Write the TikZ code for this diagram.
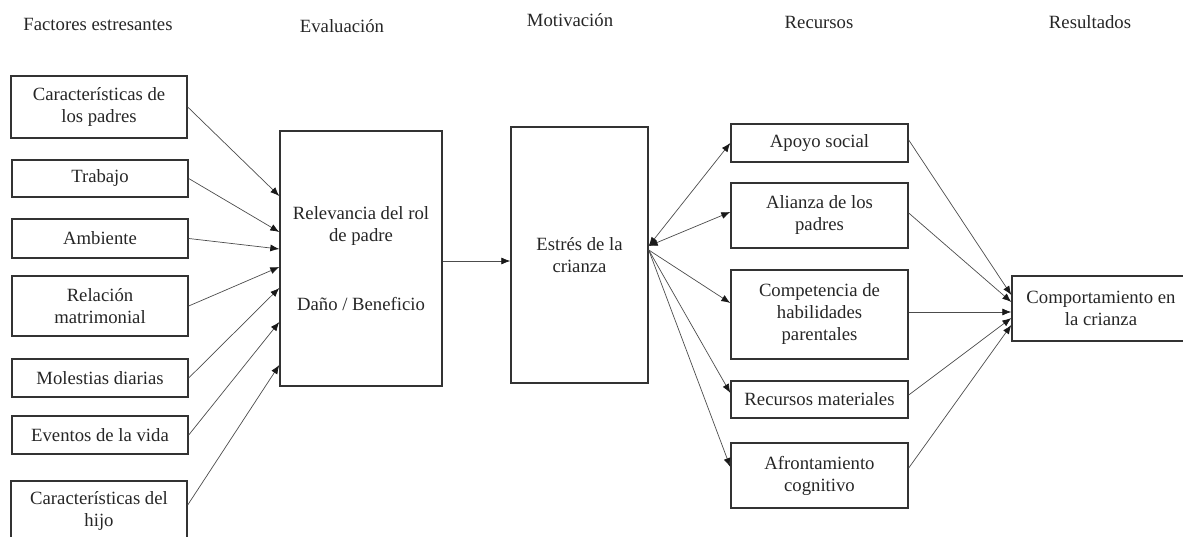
\documentclass[tikz,border=0pt]{standalone}
\usepackage{fontspec}
\setmainfont{Liberation Serif}
\usetikzlibrary{arrows.meta,calc}
\begin{document}
\begin{tikzpicture}[x=1pt,y=-1pt,
  every node/.style={font=\fontsize{18.7}{22}\selectfont, text=black!85},
  box/.style={draw=black!80, line width=1.4pt, inner sep=0pt, align=center},
  hdr/.style={inner sep=0pt},
  tip/.style={},
  conn/.style={draw=black!70, line width=0.7pt, -{Latex[length=9pt,width=7pt,color=black!90]}},
  bconn/.style={draw=black!70, line width=0.7pt, {Latex[length=9pt,width=7pt,color=black!90]}-{Latex[length=9pt,width=7pt,color=black!90]}}]
\useasboundingbox (0,0) rectangle (1183,537);
\clip (0,0) rectangle (1183,537);
% headers
\node[hdr] (h1) at (98,24) {Factores estresantes};
\node[hdr] (h2) at (342,26) {Evaluación};
\node[hdr] (h3) at (570,20) {Motivación};
\node[hdr] (h4) at (819,22) {Recursos};
\node[hdr] (h5) at (1090,22) {Resultados};
% left column
\node[box, minimum width=176pt, minimum height=62pt] (padres) at (99,107) {Características de\\los padres};
\node[box, minimum width=176pt, minimum height=37pt] (trabajo) at (100,178.5) {Trabajo};
\node[box, minimum width=176pt, minimum height=39pt] (ambiente) at (100,238.5) {Ambiente};
\node[box, minimum width=176pt, minimum height=60pt] (relacion) at (100,306) {Relación\\matrimonial};
\node[box, minimum width=176pt, minimum height=38pt] (molestias) at (100,378) {Molestias diarias};
\node[box, minimum width=176pt, minimum height=38pt] (eventos) at (100,435) {Eventos de la vida};
\node[box, minimum width=176pt, minimum height=59pt] (hijo) at (99,510.5) {Características del\\hijo};
% evaluation
\node[box, minimum width=162pt, minimum height=255pt] (rel) at (361,258.5) {Relevancia del rol\\de padre\\[47pt]Daño / Beneficio};
% motivation
\node[box, minimum width=137pt, minimum height=256pt] (est) at (579.5,255) {Estrés de la\\crianza};
% resources
\node[box, minimum width=177pt, minimum height=38pt] (apoyo) at (819.5,143) {Apoyo social};
\node[box, minimum width=177pt, minimum height=65pt] (alianza) at (819.5,215.5) {Alianza de los\\padres};
\node[box, minimum width=177pt, minimum height=89pt] (compet) at (819.5,314.5) {Competencia de\\habilidades\\parentales};
\node[box, minimum width=177pt, minimum height=37pt] (recursos) at (819.5,399.5) {Recursos materiales};
\node[box, minimum width=177pt, minimum height=65pt] (afront) at (819.5,475.5) {Afrontamiento\\cognitivo};
% result
\node[box, minimum width=178pt, minimum height=65pt] (comp) at (1101,308.5) {Comportamiento en\\la crianza};
% left arrows
\draw[conn] (padres.east) -- ([yshift=62.5pt]rel.west);
\draw[conn] (trabajo.east) -- ([yshift=26.5pt]rel.west);
\draw[conn] (ambiente.east) -- ([yshift=9.5pt]rel.west);
\draw[conn] (relacion.east) -- ([yshift=-8.5pt]rel.west);
\draw[conn] (molestias.east) -- ([yshift=-29.5pt]rel.west);
\draw[conn] (eventos.east) -- ([yshift=-63.5pt]rel.west);
\draw[conn] ([yshift=5.5pt]hijo.east) -- ([yshift=-106.5pt]rel.west);
% middle
\draw[conn] ([yshift=-2.5pt]rel.east) -- ([yshift=-2.5pt]rel.east -| est.west);
% estres to resources
\coordinate (e1) at ([yshift=9pt]est.east);
\coordinate (e2) at ([yshift=5pt]est.east);
\draw[bconn] (e1) -- (apoyo.west);
\draw[bconn] (e1) -- ([yshift=3.5pt]alianza.west);
\draw[conn] (e2) -- ([yshift=11.5pt]compet.west);
\draw[conn] (e2) -- ([yshift=6.5pt]recursos.west);
\draw[conn] (e2) -- ([yshift=8.5pt]afront.west);
% resources to result
\draw[conn] ([yshift=3pt]apoyo.east) -- ([yshift=13.5pt]comp.west);
\draw[conn] ([yshift=2.5pt]alianza.east) -- ([yshift=6.5pt]comp.west);
\draw[conn] ([yshift=2.5pt]compet.east) -- ([yshift=-3.5pt]comp.west);
\draw[conn] ([yshift=4.5pt]recursos.east) -- ([yshift=-9.5pt]comp.west);
\draw[conn] ([yshift=7.5pt]afront.east) -- ([yshift=-16.5pt]comp.west);
\end{tikzpicture}
\end{document}
